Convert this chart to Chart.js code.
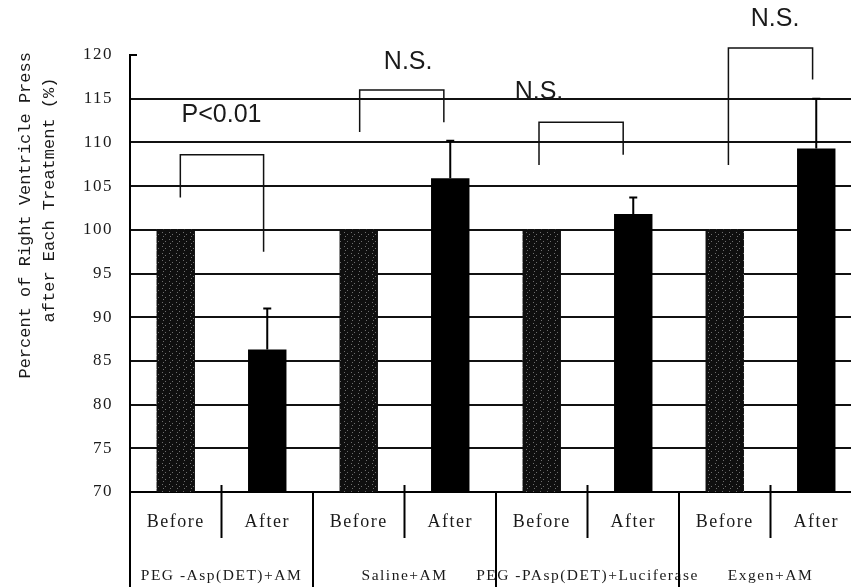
<!DOCTYPE html>
<html>
<head>
<meta charset="utf-8">
<script src="https://cdn.jsdelivr.net/npm/chart.js@4.4.1/dist/chart.umd.min.js"></script>
<style>
  html, body { margin: 0; padding: 0; overflow: hidden; background: #fff; }
  canvas { display: block; }
</style>
</head>
<body>
<canvas id="chart" width="870" height="587"></canvas>
<script>
// Data
const categories = ['Before', 'After', 'Before', 'After', 'Before', 'After', 'Before', 'After'];
const groups = ['PEG -Asp(DET)+AM', 'Saline+AM', 'PEG -PAsp(DET)+Luciferase', 'Exgen+AM'];
const beforeValues = [100, 100, 100, 100];
const afterValues = [86.3, 105.9, 101.8, 109.3];
const afterErrors = [4.7, 4.3, 1.9, 5.7];
const yTitle = ['Percent of Right Ventricle Pressure', 'after Each Treatment (%)'];

// significance brackets (x as category positions, y as % values)
const sigLabels = ['P<0.01', 'N.S.', 'N.S.', 'N.S.'];
const sigLabelX = [0.5, 2.54, 3.97, 6.55];
const sigLabelY = [113.1, 119.2, 115.8, 124.1];
const bracketLeftX = [0.05, 2.01, 3.97, 6.04];
const bracketRightX = [0.96, 2.93, 4.89, 6.96];
const bracketTop = [108.6, 116.0, 112.3, 120.8];
const bracketLeftEnd = [103.7, 111.2, 107.4, 107.4];
const bracketRightEnd = [97.5, 112.3, 108.6, 117.2];

// interleave before/after into one series
const values = [];
const errors = [];
beforeValues.forEach((b, i) => {
  values.push(b, afterValues[i]);
  errors.push(null, afterErrors[i]);
});

// dark speckled fill for the "Before" bars
function stipple() {
  const c = document.createElement('canvas');
  c.width = 7; c.height = 7;
  const g = c.getContext('2d');
  g.fillStyle = '#0f0f0f';
  g.fillRect(0, 0, 7, 7);
  g.fillStyle = '#6e6e6e';
  [[1, 1], [4, 3], [2, 5]].forEach(([px, py]) => g.fillRect(px, py, 1, 1));
  return g.createPattern(c, 'repeat');
}
const beforeFill = stipple();

const TEXT = '#1a1a1a';

// the scanned labels are letter-spaced
const spacingPlugin = {
  id: 'spacing',
  beforeDraw(chart) { chart.ctx.letterSpacing = '1.5px'; },
};

const overlayPlugin = {
  id: 'overlay',
  afterDraw(chart) {
    const { ctx, chartArea, scales: { x, y } } = chart;
    const meta = chart.getDatasetMeta(0);
    ctx.save();
    ctx.letterSpacing = '0px';
    ctx.strokeStyle = '#000';

    // error bars (upper only)
    ctx.lineWidth = 2;
    errors.forEach((e, i) => {
      if (e == null) return;
      const bx = meta.data[i].x;
      const y0 = y.getPixelForValue(values[i]);
      const y1 = y.getPixelForValue(values[i] + e);
      ctx.beginPath();
      ctx.moveTo(bx, y0);
      ctx.lineTo(bx, y1);
      ctx.moveTo(bx - 4, y1);
      ctx.lineTo(bx + 4, y1);
      ctx.stroke();
    });

    // cap at top of y axis
    ctx.beginPath();
    ctx.moveTo(chartArea.left, chartArea.top);
    ctx.lineTo(chartArea.left + 7, chartArea.top);
    ctx.stroke();

    // separators in the label area
    const h = chart.height;
    for (let i = 0; i <= categories.length - 1; i++) {
      const sx = x.getPixelForValue(i - 0.5);
      ctx.beginPath();
      if (i % 2 === 0) {
        ctx.moveTo(sx, chartArea.bottom);
        ctx.lineTo(sx, h);
      } else {
        ctx.moveTo(sx, chartArea.bottom - 7);
        ctx.lineTo(sx, chartArea.bottom + 46);
      }
      ctx.stroke();
    }

    // brackets
    ctx.lineWidth = 1.5;
    ctx.strokeStyle = '#111';
    bracketTop.forEach((t, i) => {
      const lx = x.getPixelForValue(bracketLeftX[i]);
      const rx = x.getPixelForValue(bracketRightX[i]);
      ctx.beginPath();
      ctx.moveTo(lx, y.getPixelForValue(bracketLeftEnd[i]));
      ctx.lineTo(lx, y.getPixelForValue(t));
      ctx.lineTo(rx, y.getPixelForValue(t));
      ctx.lineTo(rx, y.getPixelForValue(bracketRightEnd[i]));
      ctx.stroke();
    });

    ctx.fillStyle = TEXT;
    ctx.font = '25px "Liberation Sans"';
    ctx.textAlign = 'center';
    ctx.textBaseline = 'middle';
    sigLabels.forEach((s, i) => {
      ctx.fillText(s, x.getPixelForValue(sigLabelX[i]), y.getPixelForValue(sigLabelY[i]));
    });

    // y axis title, clipped like the original text box
    ctx.beginPath();
    ctx.rect(0, 52, 120, h);
    ctx.clip();
    ctx.translate(25, 200);
    ctx.rotate(-Math.PI / 2);
    ctx.font = '17px "Liberation Mono"';
    ctx.fillText(yTitle[0], 0, 0);
    ctx.fillText(yTitle[1], 0, 24);
    ctx.restore();
  },
};

const serif = { family: '"Liberation Serif", serif', size: 17 };

new Chart(document.getElementById('chart'), {
  type: 'bar',
  data: {
    labels: categories,
    datasets: [{
      data: values,
      backgroundColor: values.map((v, i) => (i % 2 === 0 ? beforeFill : '#000')),
      borderWidth: 0,
      barPercentage: 0.42,
      categoryPercentage: 1,
    }],
  },
  plugins: [spacingPlugin, overlayPlugin],
  options: {
    responsive: false,
    animation: false,
    devicePixelRatio: 1,
    layout: { padding: { top: 55, right: 8, left: 0, bottom: 0 } },
    plugins: { legend: { display: false }, tooltip: { enabled: false } },
    scales: {
      x: {
        type: 'category',
        offset: true,
        grid: { display: false, drawTicks: false },
        border: { display: true, color: '#000', width: 2 },
        ticks: { color: TEXT, font: { ...serif, size: 18 }, padding: 19, maxRotation: 0, autoSkip: false },
        afterFit: s => { s.height = 60; },
      },
      x2: {
        type: 'category',
        labels: groups,
        offset: true,
        position: 'bottom',
        grid: { display: false, drawTicks: false },
        border: { display: false },
        ticks: { color: TEXT, font: { ...serif, size: 15.5 }, padding: 15, maxRotation: 0, autoSkip: false },
        afterFit: s => { s.height = 35; },
      },
      y: {
        min: 70,
        max: 120,
        ticks: { stepSize: 5, padding: 17, color: TEXT, font: serif },
        grid: {
          drawTicks: false,
          lineWidth: 2,
          color: c => (c.tick && (c.tick.value === 120 || c.tick.value === 70) ? 'rgba(0,0,0,0)' : '#111'),
        },
        border: { color: '#000', width: 2 },
        afterFit: s => { s.width = 130; },
      },
    },
  },
});
</script>
</body>
</html>
